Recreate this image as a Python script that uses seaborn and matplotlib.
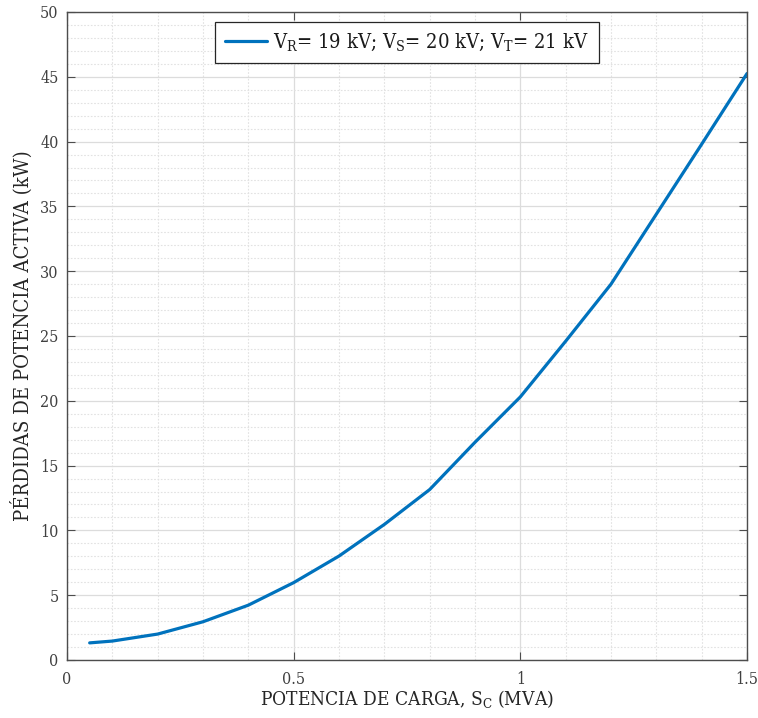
import matplotlib
matplotlib.use("Agg")
import matplotlib.pyplot as plt
from matplotlib.ticker import MultipleLocator, FixedLocator, FuncFormatter
import seaborn as sns
import pandas as pd

# Load power (MVA) and active power losses (kW)
potencia_carga = [0.05, 0.1, 0.2, 0.3, 0.4, 0.5, 0.6, 0.7, 0.8, 0.9, 1.0, 1.1, 1.2, 1.3, 1.4, 1.5]
perdidas_kw = [1.32, 1.46, 2.0, 2.95, 4.23, 5.97, 8.02, 10.46, 13.15, 16.8, 20.3, 24.6, 29.0, 34.4, 39.8, 45.25]
x_ticks = [0, 0.5, 1, 1.5]
y_ticks = [0, 5, 10, 15, 20, 25, 30, 35, 40, 45, 50]
serie = r"V$_\mathrm{R}$= 19 kV; V$_\mathrm{S}$= 20 kV; V$_\mathrm{T}$= 21 kV"

df = pd.DataFrame({"S": potencia_carga, "P": perdidas_kw, "serie": serie})

sns.set_theme(style="white")
plt.rcParams["font.family"] = ["DejaVu Serif"]
plt.rcParams["font.stretch"] = "condensed"
plt.rcParams["mathtext.fontset"] = "custom"
plt.rcParams["mathtext.rm"] = "DejaVu Serif"
plt.rcParams["mathtext.it"] = "DejaVu Serif:italic"

fig = plt.figure(figsize=(7.58, 7.18), dpi=100)
ax = fig.add_axes([0.0884, 0.0808, 0.8971, 0.9025])

sns.lineplot(data=df, x="S", y="P", hue="serie", palette=["#0072BD"],
             linewidth=2.3, ax=ax, legend=True)

ax.set_xlim(0, 1.5)
ax.set_ylim(0, 50)
ax.xaxis.set_major_locator(FixedLocator(x_ticks))
ax.xaxis.set_minor_locator(MultipleLocator(0.1))
ax.yaxis.set_major_locator(FixedLocator(y_ticks))
ax.yaxis.set_minor_locator(MultipleLocator(1))
ax.xaxis.set_major_formatter(FuncFormatter(lambda v, p: f"{v:g}"))
ax.yaxis.set_major_formatter(FuncFormatter(lambda v, p: f"{v:g}"))

ax.grid(which="major", color="#dcdcdc", linewidth=0.9, linestyle="-")
ax.grid(which="minor", color="#e2e2e2", linewidth=0.8, linestyle=(0, (1.5, 1.5)))
ax.set_axisbelow(True)

for s in ax.spines.values():
    s.set_color("#4d4d4d")
    s.set_linewidth(1.0)

ax.tick_params(which="major", direction="in", length=6, width=0.8, colors="#4d4d4d",
               labelcolor="#404040", labelsize=11.5, top=True, right=True, bottom=True, left=True)
ax.tick_params(which="minor", length=0)
ax.tick_params(axis="x", pad=8)
ax.tick_params(axis="y", pad=6)

ax.set_xlabel(r"POTENCIA DE CARGA, S$_\mathrm{C}$ (MVA)", fontsize=13.8, color="#262626", labelpad=0)
ax.set_ylabel("PÉRDIDAS DE POTENCIA ACTIVA (kW)", fontsize=14.6, color="#262626", labelpad=5)

leg = ax.legend(loc="upper center", bbox_to_anchor=(0.5, 0.985), borderaxespad=0,
                fontsize=14.5, frameon=True, fancybox=False, edgecolor="#262626",
                framealpha=1, handlelength=2.1, handletextpad=0.3, borderpad=0.5, title=None)
leg.get_frame().set_linewidth(0.9)
for t in leg.get_texts():
    t.set_color("#1a1a1a")

fig.savefig("out.png", dpi=100)
